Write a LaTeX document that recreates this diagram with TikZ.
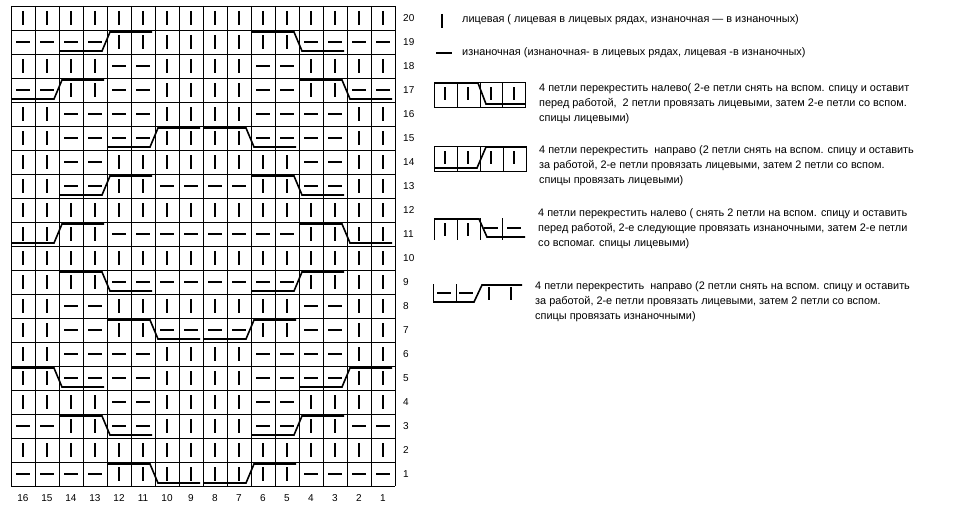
\documentclass[tikz,border=0pt]{standalone}
\usepackage{fontspec}
\setmainfont{Liberation Sans}
\begin{document}
\begin{tikzpicture}[x=1pt,y=-1pt,
  sym/.style={line width=2pt},
  cab/.style={line width=1.6pt},
  gridl/.style={line width=0.8pt},
  lbl/.style={font=\fontsize{10}{12}\selectfont,inner sep=0pt},
  txt/.style={font=\fontsize{10.9}{12}\selectfont,inner sep=0pt,anchor=west}]
\useasboundingbox[fill=white] (0,0) rectangle (973,527);
% grid
\foreach \i in {0,...,16} \draw[gridl] (11+24*\i,6) -- (11+24*\i,486);
\foreach \j in {0,...,20} \draw[gridl] (11,6+24*\j) -- (395,6+24*\j);
% stitches
\foreach \r/\s in {20/{0,0,0,0,0,0,0,0,0,0,0,0,0,0,0,0},
 19/{1,1,1,1,0,0,0,0,0,0,0,0,1,1,1,1},
 18/{0,0,0,0,1,1,0,0,0,0,1,1,0,0,0,0},
 17/{1,1,0,0,1,1,0,0,0,0,1,1,0,0,1,1},
 16/{0,0,1,1,1,1,0,0,0,0,1,1,1,1,0,0},
 15/{0,0,1,1,1,1,0,0,0,0,1,1,1,1,0,0},
 14/{0,0,1,1,0,0,0,0,0,0,0,0,1,1,0,0},
 13/{0,0,1,1,0,0,1,1,1,1,0,0,1,1,0,0},
 12/{0,0,0,0,0,0,0,0,0,0,0,0,0,0,0,0},
 11/{0,0,0,0,1,1,1,1,1,1,1,1,0,0,0,0},
 10/{0,0,0,0,0,0,0,0,0,0,0,0,0,0,0,0},
 9/{0,0,0,0,1,1,1,1,1,1,1,1,0,0,0,0},
 8/{0,0,1,1,0,0,0,0,0,0,0,0,1,1,0,0},
 7/{0,0,1,1,0,0,1,1,1,1,0,0,1,1,0,0},
 6/{0,0,1,1,1,1,0,0,0,0,1,1,1,1,0,0},
 5/{0,0,1,1,1,1,0,0,0,0,1,1,1,1,0,0},
 4/{0,0,0,0,1,1,0,0,0,0,1,1,0,0,0,0},
 3/{1,1,0,0,1,1,0,0,0,0,1,1,0,0,1,1},
 2/{0,0,0,0,0,0,0,0,0,0,0,0,0,0,0,0},
 1/{1,1,1,1,0,0,0,0,0,0,0,0,1,1,1,1}}{
  \foreach \v [count=\c from 0] in \s {
    \pgfmathsetmacro\cx{23+24*\c}
    \pgfmathsetmacro\cy{18+24*(20-\r)}
    \ifnum\v=1
      \draw[sym] (\cx-7,\cy) -- (\cx+7,\cy);
    \else
      \draw[sym] (\cx,\cy-7) -- (\cx,\cy+7);
    \fi
  }
}
% cables
\foreach \r/\c in {19/2,17/0,15/4,13/2,11/0,9/10,7/8,5/12,3/10,1/8}{
  \pgfmathsetmacro\xo{11+24*\c}
  \pgfmathsetmacro\T{6+24*(20-\r)}
  \draw[cab] (\xo+1,\T+21) -- (\xo+43,\T+21) -- (\xo+51,\T+2) -- (\xo+93,\T+2);
}
\foreach \r/\c in {19/10,17/12,15/8,13/10,11/12,9/2,7/4,5/0,3/2,1/4}{
  \pgfmathsetmacro\xo{11+24*\c}
  \pgfmathsetmacro\T{6+24*(20-\r)}
  \draw[cab] (\xo+1,\T+2) -- (\xo+43,\T+2) -- (\xo+51,\T+21) -- (\xo+93,\T+21);
}
% labels
\foreach \r in {1,...,20}{
  \node[lbl,anchor=west] (r\r) at (403,18+24*20-24*\r) {\r};
}
\foreach \n [count=\c from 0] in {16,15,...,1}{
  \node[lbl] (c\n) at (23+24*\c,498) {\n};
}
% legend 1
\draw[sym] (442,14) -- (442,28);
\node[txt] (t1) at (462,20) {лицевая ( лицевая в лицевых рядах, изнаночная — в изнаночных)};
% legend 2
\draw[sym] (436,53) -- (452,53);
\node[txt] (t2) at (462,53) {изнаночная (изнаночная- в лицевых рядах, лицевая -в изнаночных)};
% legend 3
\draw[gridl] (434,82) rectangle (525,107);
\foreach \x in {457,480,502} \draw[gridl] (\x,82) -- (\x,107);
\foreach \x in {445,468,491,514} \draw[sym] (\x,87) -- (\x,100);
\draw[cab] (434,83) -- (478,83) -- (486,104) -- (525,104);
\node[txt] (t3a) at (539,89) {4 петли перекрестить налево( 2-е петли снять на вспом. спицу и оставит};
\node[txt] (t3b) at (539,104) {перед работой,\ \ 2 петли провязать лицевыми, затем 2-е петли со вспом.};
\node[txt] (t3c) at (539,119) {спицы лицевыми)};
% legend 4
\draw[gridl] (434,146) rectangle (526,171);
\foreach \x in {457,480,503} \draw[gridl] (\x,146) -- (\x,171);
\foreach \x in {445,468,491,514} \draw[sym] (\x,151) -- (\x,164);
\draw[cab] (434,168) -- (477,168) -- (486,147) -- (526,147);
\node[txt] (t4a) at (539,151) {4 петли перекрестить\ \ направо (2 петли снять на вспом. спицу и оставить};
\node[txt] (t4b) at (539,166) {за работой, 2-е петли провязать лицевыми, затем 2 петли со вспом.};
\node[txt] (t4c) at (539,181) {спицы провязать лицевыми)};
% legend 5
\foreach \x in {434,457,480,502} \draw[gridl] (\x,218) -- (\x,240);
\foreach \x in {445,468} \draw[sym] (\x,223) -- (\x,236);
\foreach \x in {491,514} \draw[sym] (\x-7,228) -- (\x+7,228);
\draw[cab] (434,219) -- (479,219) -- (487,237) -- (525,237);
\node[txt] (t5a) at (538,214) {4 петли перекрестить налево ( снять 2 петли на вспом. спицу и оставить};
\node[txt] (t5b) at (538,229) {перед работой, 2-е следующие провязать изнаночными, затем 2-е петли};
\node[txt] (t5c) at (538,244) {со вспомаг. спицы лицевыми)};
% legend 6
\foreach \x in {433,456} \draw[gridl] (\x,284) -- (\x,303);
\foreach \x in {444,466} \draw[sym] (\x-7,293) -- (\x+7,293);
\foreach \x in {489,511} \draw[sym] (\x,287) -- (\x,300);
\draw[cab] (433,302) -- (474,302) -- (482,285) -- (522,285);
\node[txt] (t6a) at (535,287) {4 петли перекрестить\ \ направо (2 петли снять на вспом. спицу и оставить};
\node[txt] (t6b) at (535,302) {за работой, 2-е петли провязать лицевыми, затем 2 петли со вспом.};
\node[txt] (t6c) at (535,317) {спицы провязать изнаночными)};
\end{tikzpicture}
\end{document}
